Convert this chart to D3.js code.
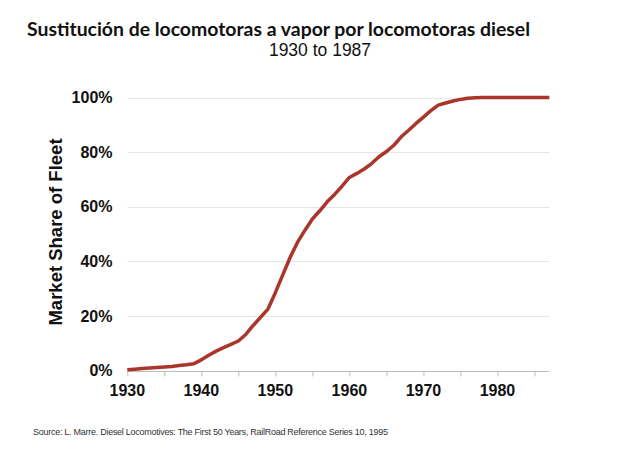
<!DOCTYPE html>
<html>
<head>
<meta charset="utf-8">
<script src="https://cdn.jsdelivr.net/npm/d3@7/dist/d3.min.js"></script>
<style>
  html, body { margin: 0; padding: 0; background: #fff; }
  svg { display: block; }
</style>
</head>
<body>
<svg id="chart" width="640" height="449"></svg>
<script>
const years = d3.range(1930, 1988);
const share = [
  0.3, 0.5, 0.7, 0.9, 1.1, 1.3, 1.5, 1.8, 2.1, 2.5,
  3.9, 5.6, 7.1, 8.4, 9.6, 10.8, 13.2, 16.5, 19.5, 22.5,
  28.5, 35, 41.5, 47, 51.4, 55.5, 58.5, 61.8, 64.5, 67.5,
  70.7, 72.2, 73.8, 75.8, 78.3, 80.2, 82.5, 85.6, 88, 90.5,
  92.8, 95.2, 97.2, 98, 98.7, 99.3, 99.7, 99.9, 100, 100,
  100, 100, 100, 100, 100, 100, 100, 100
];
const yTicks = [0, 20, 40, 60, 80, 100];
const xMinorTicks = d3.range(1930, 1986, 5);
const xLabelTicks = [1930, 1940, 1950, 1960, 1970, 1980];

const title = "Sustitución de locomotoras a vapor por locomotoras diesel";
const subtitle = "1930 to 1987";
const yLabel = "Market Share of Fleet";
const source = "Source: L. Marre. Diesel Locomotives: The First 50 Years, RailRoad Reference Series 10, 1995";

const data = years.map((y, i) => ({ year: y, value: share[i] }));

const svg = d3.select("#chart");
const x = d3.scaleLinear().domain([1930, 1987]).range([127.3, 549.3]);
const y = d3.scaleLinear().domain([0, 100]).range([370.5, 97.5]);

// gridlines
svg.append("g").selectAll("line").data(yTicks.filter(d => d > 0)).join("line")
  .attr("x1", x(1930)).attr("x2", x(1987))
  .attr("y1", d => Math.round(y(d)) + 0.5).attr("y2", d => Math.round(y(d)) + 0.5)
  .attr("stroke", "#e6e6e6").attr("stroke-width", 1);

// x axis line + ticks
const xAxisG = svg.append("g").attr("transform", `translate(0,${Math.round(y(0)) + 0.5})`);
xAxisG.call(d3.axisBottom(x).tickValues(xMinorTicks).tickSize(5).tickFormat(""));
xAxisG.select(".domain").attr("stroke", "#bdbdbd").attr("d", `M${x(1930)},0H${x(1987)}`);
xAxisG.selectAll(".tick line").attr("stroke", "#bdbdbd");

// x labels
svg.append("g").selectAll("text").data(xLabelTicks).join("text")
  .attr("x", d => x(d)).attr("y", 396)
  .attr("text-anchor", "middle")
  .attr("font-family", "Arial, 'Liberation Sans', sans-serif")
  .attr("font-weight", "bold").attr("font-size", 16).attr("fill", "#111")
  .text(d => d);

// y labels
svg.append("g").selectAll("text").data(yTicks).join("text")
  .attr("x", 112.5).attr("y", d => y(d)).attr("dy", "0.36em")
  .attr("text-anchor", "end")
  .attr("font-family", "Arial, 'Liberation Sans', sans-serif")
  .attr("font-weight", "bold").attr("font-size", 16).attr("fill", "#111")
  .text(d => d + "%");

// y axis title
svg.append("text")
  .attr("transform", `translate(62,232) rotate(-90)`)
  .attr("text-anchor", "middle")
  .attr("font-family", "Arial, 'Liberation Sans', sans-serif")
  .attr("font-weight", "bold").attr("font-size", 18.5).attr("fill", "#111")
  .text(yLabel);

// line
const line = d3.line().x(d => x(d.year)).y(d => y(d.value));
svg.append("path").datum(data)
  .attr("d", line)
  .attr("fill", "none").attr("stroke", "#a9352b").attr("stroke-width", 3.5)
  .attr("stroke-linejoin", "round");

// title
svg.append("text")
  .attr("x", 27).attr("y", 36)
  .attr("font-family", "Lato, 'Open Sans', sans-serif")
  .attr("font-weight", "bold").attr("font-size", 19.5).attr("fill", "#111")
  .attr("textLength", 503).attr("lengthAdjust", "spacingAndGlyphs")
  .text(title);

svg.append("text")
  .attr("x", 320).attr("y", 56)
  .attr("text-anchor", "middle")
  .attr("font-family", "Arial, 'Liberation Sans', sans-serif")
  .attr("font-size", 17.5).attr("fill", "#111")
  .text(subtitle);

svg.append("text")
  .attr("x", 33).attr("y", 435)
  .attr("font-family", "Arial, 'Liberation Sans', sans-serif")
  .attr("font-size", 9).attr("fill", "#333")
  .attr("textLength", 355).attr("lengthAdjust", "spacing")
  .text(source);
</script>
</body>
</html>
